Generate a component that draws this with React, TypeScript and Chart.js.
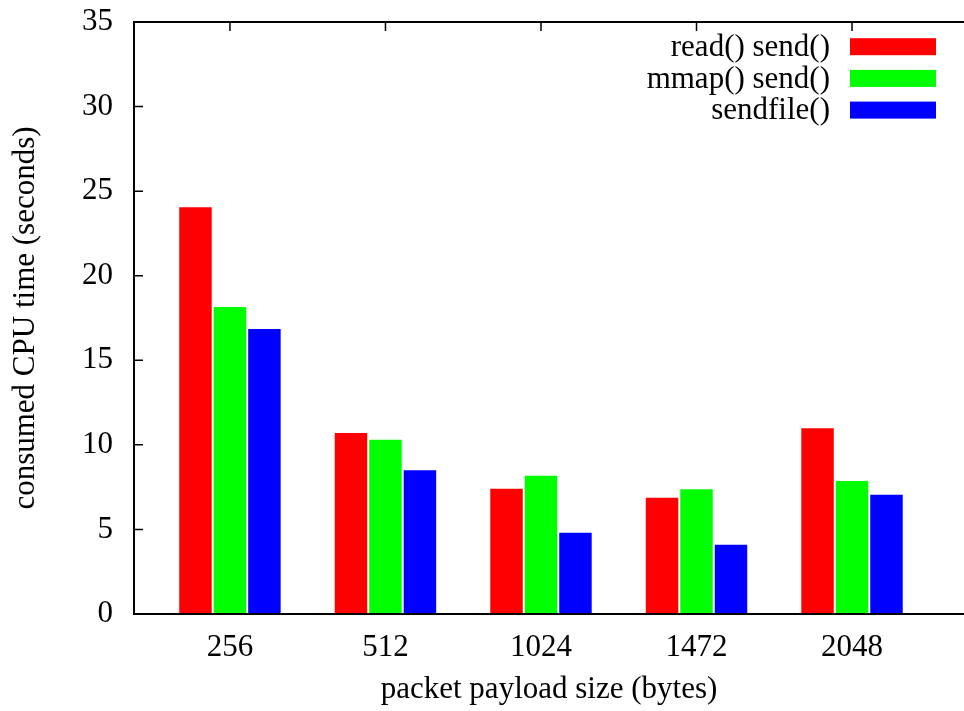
import React, { useEffect, useRef } from "react";
import { Chart, registerables } from "chart.js";

Chart.register(...registerables);

// ---- data ----
const categories = ["256", "512", "1024", "1472", "2048"];
const seriesLabels = ["read() send()", "mmap() send()", "sendfile()"];
const readSend = [24.05, 10.7, 7.4, 6.88, 10.98];
const mmapSend = [18.15, 10.3, 8.18, 7.37, 7.86];
const sendfileVals = [16.85, 8.5, 4.8, 4.1, 7.05];
const seriesColors = ["#ff0000", "#00ff00", "#0000ff"];
const yTickValues = [0, 5, 10, 15, 20, 25, 30, 35];
const xTitle = "packet payload size (bytes)";
const yTitle = "consumed CPU time (seconds)";

const FONT = "'Liberation Serif', 'Times New Roman', serif";
const FS = 31;

const gnuplotPlugin = {
  id: "gnuplotFrame",
  beforeDatasetsDraw(chart: any) {
    const { ctx, chartArea: a, scales } = chart;
    ctx.save();
    ctx.strokeStyle = "#000";
    ctx.lineWidth = 1.5;
    ctx.beginPath();
    for (const t of scales.y.ticks) {
      const py = scales.y.getPixelForValue(t.value);
      ctx.moveTo(a.left, py);
      ctx.lineTo(a.left + 9, py);
    }
    for (const t of scales.x.ticks) {
      const px = scales.x.getPixelForValue(t.value);
      ctx.moveTo(px, a.top);
      ctx.lineTo(px, a.top + 9);
      ctx.moveTo(px, a.bottom);
      ctx.lineTo(px, a.bottom - 9);
    }
    ctx.stroke();
    ctx.restore();
  },
  afterDatasetsDraw(chart: any) {
    const { ctx, chartArea: a } = chart;
    ctx.save();
    ctx.strokeStyle = "#000";
    ctx.lineWidth = 2;
    ctx.beginPath();
    ctx.moveTo(a.right + 2, a.top);
    ctx.lineTo(a.left, a.top);
    ctx.lineTo(a.left, a.bottom);
    ctx.lineTo(a.right + 2, a.bottom);
    ctx.stroke();
    ctx.restore();
  },
  afterDraw(chart: any) {
    const { ctx } = chart;
    ctx.save();
    ctx.font = `${FS}px ${FONT}`;
    ctx.textAlign = "right";
    ctx.textBaseline = "middle";
    chart.data.datasets.forEach((d: any, i: number) => {
      const cy = 46.7 + i * 31.7;
      ctx.fillStyle = d.backgroundColor;
      ctx.fillRect(850, cy - 8.5, 86, 17);
      ctx.fillStyle = "#000";
      ctx.fillText(d.label, 830, cy + 1);
    });
    ctx.restore();
  },
};

export default function App() {
  const ref = useRef<HTMLCanvasElement | null>(null);

  useEffect(() => {
    if (!ref.current) return;
    const seriesValues = [readSend, mmapSend, sendfileVals];
    const chart = new Chart(ref.current, {
      type: "bar",
      data: {
        datasets: seriesValues.map((vals, si) => ({
          label: seriesLabels[si],
          data: vals.map((v, i) => ({ x: i, y: v })),
          backgroundColor: seriesColors[si],
          borderWidth: 0,
          categoryPercentage: 0.665,
          barPercentage: 0.942,
        })),
      },
      options: {
        animation: false,
        responsive: false,
        maintainAspectRatio: false,
        layout: { padding: { top: 22, right: 0, left: 0, bottom: 0 } },
        plugins: {
          legend: { display: false },
          tooltip: { enabled: false },
        },
        scales: {
          x: {
            type: "linear",
            offset: false,
            min: -0.617,
            max: 4.72,
            grid: { display: false, drawTicks: false, tickLength: 0 },
            border: { display: false },
            afterBuildTicks: (s: any) => {
              s.ticks = categories.map((_, i) => ({ value: i }));
            },
            afterFit: (s: any) => {
              s.height = 97;
              s.paddingLeft = 0;
              s.paddingRight = 0;
            },
            ticks: {
              autoSkip: false,
              maxRotation: 0,
              padding: 15,
              color: "#000",
              font: { family: FONT, size: FS },
              callback: (v: any) => categories[v] ?? "",
            },
            title: {
              display: true,
              text: xTitle,
              color: "#000",
              font: { family: FONT, size: FS },
              padding: { top: 0, bottom: 3 },
            },
          },
          y: {
            type: "linear",
            min: 0,
            max: 35,
            grid: { display: false, drawTicks: false, tickLength: 0 },
            border: { display: false },
            afterBuildTicks: (s: any) => {
              s.ticks = yTickValues.map((v) => ({ value: v }));
            },
            afterFit: (s: any) => {
              s.width = 134;
              s.paddingTop = 0;
              s.paddingBottom = 0;
            },
            ticks: {
              padding: 21,
              color: "#000",
              font: { family: FONT, size: FS },
            },
            title: {
              display: true,
              text: yTitle,
              color: "#000",
              font: { family: FONT, size: FS },
              padding: { top: 7, bottom: 0 },
            },
          },
        },
      },
      plugins: [gnuplotPlugin],
    } as any);
    return () => chart.destroy();
  }, []);

  return (
    <div style={{ position: "fixed", left: 0, top: 0, width: 964, height: 711, background: "#fff" }}>
      <canvas ref={ref} width={964} height={711} style={{ width: 964, height: 711, display: "block" }} />
    </div>
  );
}
